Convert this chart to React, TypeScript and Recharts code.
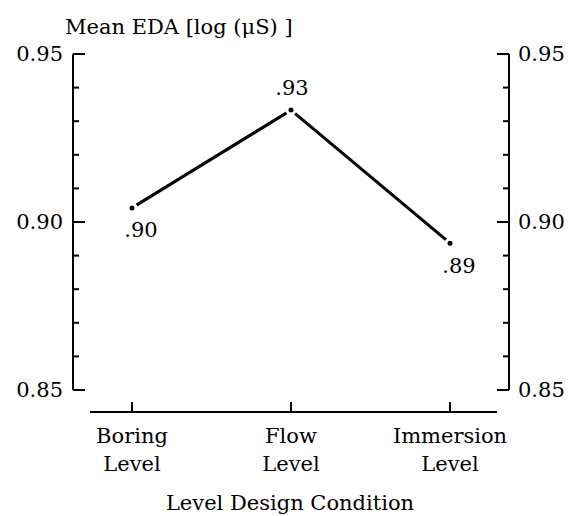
import React from 'react';
import { LineChart, Line, XAxis, YAxis, LabelList } from 'recharts';

const categories = ['Boring Level', 'Flow Level', 'Immersion Level'];
const meanEDA = [0.9042, 0.9333, 0.8937];
const yTicks = [0.85, 0.86, 0.87, 0.88, 0.89, 0.9, 0.91, 0.92, 0.93, 0.94, 0.95];
const yTitle = 'Mean EDA [log (\u03BCS) ]';
const xTitle = 'Level Design Condition';

const data = categories.map((name, i) => ({ name, value: meanEDA[i] }));

const FONT = '"DejaVu Serif", serif';
const FS = 21;

const isMajor = (v: number) => Math.round(v * 100) % 5 === 0;

const LeftTick = (props: any) => {
  const { x, y, payload } = props;
  const major = isMajor(payload.value);
  return (
    <g>
      <line x1={x} x2={x + (major ? 12 : 6)} y1={y} y2={y} stroke="#000" strokeWidth={2} />
      {major && (
        <text x={x - 10} y={y} dy="0.35em" textAnchor="end" fontFamily={FONT} fontSize={FS} fill="#000">
          {payload.value.toFixed(2)}
        </text>
      )}
    </g>
  );
};

const RightTick = (props: any) => {
  const { x, y, payload } = props;
  const major = isMajor(payload.value);
  return (
    <g>
      <line x1={x} x2={x - (major ? 12 : 6)} y1={y} y2={y} stroke="#000" strokeWidth={2} />
      {major && (
        <text x={x + 9} y={y} dy="0.35em" textAnchor="start" fontFamily={FONT} fontSize={FS} fill="#000">
          {payload.value.toFixed(2)}
        </text>
      )}
    </g>
  );
};

const XTick = (props: any) => {
  const { x, y, payload } = props;
  const words = String(payload.value).split(' ');
  return (
    <g>
      <line x1={x} x2={x} y1={y} y2={y - 10} stroke="#000" strokeWidth={2} />
      <text x={x} y={y + 31} textAnchor="middle" fontFamily={FONT} fontSize={FS} fill="#000">
        {words[0]}
      </text>
      <text x={x} y={y + 59} textAnchor="middle" fontFamily={FONT} fontSize={FS} fill="#000">
        {words[1]}
      </text>
    </g>
  );
};

const maxVal = Math.max(...meanEDA);

const PointLabel = (props: any) => {
  const { x, y, value } = props;
  const above = value === maxVal;
  const txt = Number(value).toFixed(2).replace(/^0/, '');
  return (
    <text
      x={above ? x + 1 : x + 9}
      y={above ? y - 22 : y + 22}
      dy="0.35em"
      textAnchor="middle"
      fontFamily={FONT}
      fontSize={FS}
      fill="#000"
    >
      {txt}
    </text>
  );
};

const YTitle = (props: any) => {
  const { viewBox } = props;
  return (
    <text x={viewBox.x + 65} y={viewBox.y - 27} dy="0.35em" fontFamily={FONT} fontSize={FS} fill="#000">
      {yTitle}
    </text>
  );
};

const XTitleLabel = (props: any) => {
  const { viewBox } = props;
  return (
    <text x={290} y={viewBox.y + 98} textAnchor="middle" fontFamily={FONT} fontSize={FS} fill="#000">
      {xTitle}
    </text>
  );
};

export default function App() {
  return (
    <div style={{ position: 'absolute', left: 0, top: 0, background: '#fff' }}>
      <LineChart width={570} height={516} data={data} margin={{ top: 54, right: 0, bottom: 0, left: 0 }}>
        <XAxis xAxisId="X1pad" dataKey="name" height={22} axisLine={false} tickLine={false} tick={false} />
        <XAxis
          xAxisId="X2main"
          dataKey="name"
          height={104}
          padding={{ left: 42, right: 47 }}
          axisLine={{ stroke: '#000', strokeWidth: 2 }}
          tickLine={false}
          tickSize={0}
          tickMargin={0}
          tick={<XTick />}
          interval={0}
          label={<XTitleLabel />}
        />
        <YAxis yAxisId="L1pad" orientation="left" width={17} axisLine={false} tickLine={false} tick={false} />
        <YAxis
          yAxisId="L2main"
          orientation="left"
          width={73}
          domain={[0.85, 0.95]}
          allowDataOverflow
          ticks={yTicks}
          interval={0}
          axisLine={{ stroke: '#000', strokeWidth: 2 }}
          tickLine={false}
          tickSize={0}
          tickMargin={0}
          tick={<LeftTick />}
          label={<YTitle />}
        />
        <YAxis yAxisId="R1pad" orientation="right" width={12} axisLine={false} tickLine={false} tick={false} />
        <YAxis
          yAxisId="R2main"
          orientation="right"
          width={61}
          domain={[0.85, 0.95]}
          allowDataOverflow
          ticks={yTicks}
          interval={0}
          axisLine={{ stroke: '#000', strokeWidth: 2 }}
          tickLine={false}
          tickSize={0}
          tickMargin={0}
          tick={<RightTick />}
        />
        <Line
          xAxisId="X2main"
          yAxisId="L2main"
          type="linear"
          dataKey="value"
          stroke="#000"
          strokeWidth={3}
          dot={{ r: 4, fill: '#000', stroke: '#fff', strokeWidth: 3 }}
          isAnimationActive={false}
        >
          <LabelList dataKey="value" content={<PointLabel />} />
        </Line>
      </LineChart>
    </div>
  );
}
